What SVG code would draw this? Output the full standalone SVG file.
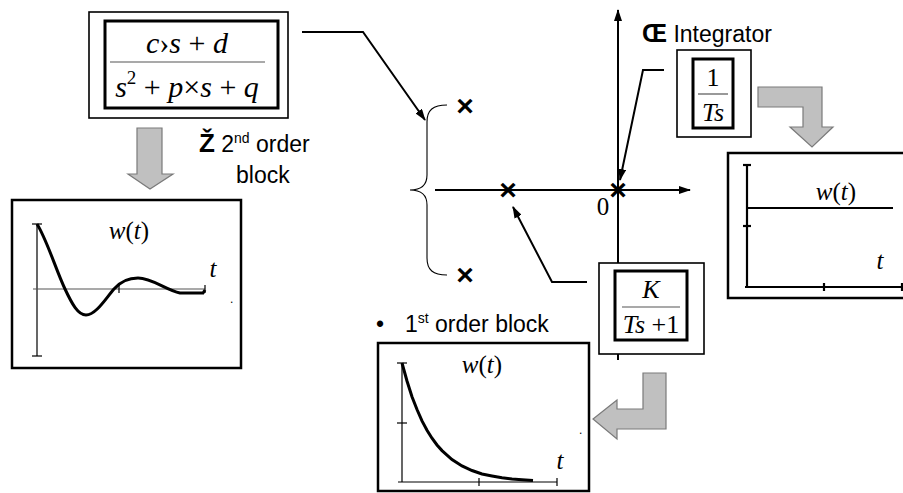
<svg xmlns="http://www.w3.org/2000/svg" width="903" height="493" viewBox="0 0 903 493">
<defs>
<marker id="ah" viewBox="0 0 12 8" refX="11" refY="4" markerWidth="12" markerHeight="8" markerUnits="userSpaceOnUse" orient="auto">
<path d="M0,0 L12,4 L0,8 Z" fill="#000"/>
</marker>
<style>
.outer{fill:#fff;stroke:#000;stroke-width:1.6}
.inner{fill:#fff;stroke:#000;stroke-width:3}
.gbox{fill:#fff;stroke:#000;stroke-width:2.5}
.fl{stroke:#555;stroke-width:1.2}
.m{font-family:"Liberation Serif",serif;font-size:25px;fill:#000}
.f{font-size:26px}
.big{font-size:30px}
.i{font-style:italic}
.lbl{font-family:"Liberation Sans",Arial,sans-serif;font-size:23px;fill:#000}
.dot{font-family:"Liberation Sans",Arial,sans-serif;font-size:12px;fill:#000}
.b{font-weight:bold}
.gray{fill:#c0c0c0;stroke:#7a7a7a;stroke-width:1.2}
.conn{fill:none;stroke:#000;stroke-width:2}
.ax{fill:none;stroke:#000;stroke-width:1.2}
.axb{fill:none;stroke:#000;stroke-width:2.2}
.crv{fill:none;stroke:#000;stroke-width:3}
.x{font-family:"Liberation Sans",Arial,sans-serif;font-size:30px;font-weight:bold;text-anchor:middle}
</style>
</defs>

<g id="connectors">
<path class="conn" d="M302,32 L363,32 L425,120" marker-end="url(#ah)"/>
<path class="conn" d="M664,70 L643,70 L620,180" marker-end="url(#ah)"/>
<path class="conn" d="M587,282 L552,282 L513,207" marker-end="url(#ah)"/>
</g>

<g id="axes">
<line class="conn" x1="435" y1="190" x2="690" y2="190" marker-end="url(#ah)"/>
<line class="conn" x1="618" y1="360" x2="618" y2="10" marker-end="url(#ah)"/>
<text class="m" x="603" y="215" text-anchor="middle">0</text>
</g>

<g id="brace">
<path fill="none" stroke="#000" stroke-width="1.1" d="M447,105 C433,105 427,110 427,122 L427,175 C427,186 421,190 410,190 C421,190 427,194 427,205 L427,258 C427,270 433,275 447,275"/>
</g>

<g id="poles">
<text class="x" x="465" y="116">×</text>
<text class="x" x="465" y="285">×</text>
<text class="x" x="508" y="200">×</text>
<text class="x" x="618" y="200">×</text>
</g>

<g id="second-order-block">
<rect class="outer" x="89" y="12" width="199" height="106"/>
<rect class="inner" x="105" y="21" width="173" height="87"/>
<line class="fl" x1="110" y1="62" x2="265" y2="62"/>
<text class="m big" x="187" y="53" text-anchor="middle"><tspan class="i">c</tspan>›<tspan class="i">s</tspan> + <tspan class="i">d</tspan></text>
<text class="m big" x="187" y="97" text-anchor="middle"><tspan class="i">s</tspan><tspan font-size="19" dy="-13">2</tspan><tspan dy="13"> + </tspan><tspan class="i">p</tspan>×<tspan class="i">s</tspan> + <tspan class="i">q</tspan></text>
</g>

<g id="second-order-label">
<text class="lbl" x="199" y="152"><tspan class="b" font-size="26">Ž</tspan> 2<tspan font-size="14" dy="-9">nd</tspan><tspan dy="9"> order</tspan></text>
<text class="lbl" x="236" y="183">block</text>
</g>

<g id="arrow-down-left">
<polygon class="gray" points="137,128 162,128 162,174 173,174 150,189 128,174 137,174"/>
</g>

<g id="second-order-response">
<rect class="gbox" x="12" y="200" width="229" height="168"/>
<line class="ax" x1="37" y1="224" x2="37" y2="356"/>
<line class="ax" x1="32" y1="224" x2="42" y2="224"/>
<line class="ax" x1="32" y1="356" x2="42" y2="356"/>
<line x1="33" y1="289" x2="205" y2="289" stroke="#555" stroke-width="1.2"/>
<line class="ax" x1="119" y1="285" x2="119" y2="293"/>
<line class="ax" x1="205" y1="285" x2="205" y2="293"/>
<path class="crv" d="M37,224 C47,240 56,270 65,289 C72,304 78,315 86,315 C96,315 106,298 114,289 C121,281 128,278 138,278 C152,278 166,290 180,293 L203,293 L205,290"/>
<text class="m i" x="129" y="239" text-anchor="middle">w<tspan font-style="normal">(</tspan>t<tspan font-style="normal">)</tspan></text>
<text class="m i" x="213" y="277" text-anchor="middle">t</text>
<text class="dot" x="230" y="303">.</text>
</g>

<g id="integrator-label">
<text class="lbl" x="642" y="42"><tspan class="b" font-size="25">Œ</tspan> Integrator</text>
</g>

<g id="integrator-block">
<rect class="outer" x="677" y="50" width="74" height="87"/>
<rect class="inner" x="693" y="59" width="40" height="69"/>
<line class="fl" x1="698" y1="94" x2="728" y2="94"/>
<text class="m f" x="713" y="86" text-anchor="middle">1</text>
<text class="m f i" x="713" y="121" text-anchor="middle">Ts</text>
</g>

<g id="arrow-integrator">
<polygon class="gray" points="758,87 822,87 822,127 833,127 812,147 790,127 803,127 803,107 758,107"/>
</g>

<g id="integrator-response">
<rect class="gbox" x="728" y="153" width="180" height="145" stroke-width="3"/>
<line class="axb" x1="747" y1="165" x2="747" y2="287"/>
<line class="axb" x1="743" y1="165" x2="751" y2="165"/>
<line class="axb" x1="743" y1="226" x2="751" y2="226"/>
<line class="axb" x1="745" y1="287" x2="905" y2="287"/>
<line class="axb" x1="824" y1="283" x2="824" y2="291"/>
<line class="axb" x1="902" y1="283" x2="902" y2="291"/>
<line class="axb" x1="747" y1="208" x2="893" y2="208"/>
<text class="m i" x="836" y="200" text-anchor="middle">w<tspan font-style="normal">(</tspan>t<tspan font-style="normal">)</tspan></text>
<text class="m i" x="880" y="269" text-anchor="middle">t</text>
</g>

<g id="first-order-block">
<rect class="outer" x="599" y="263" width="105" height="91"/>
<rect class="inner" x="615" y="271" width="72" height="69"/>
<line class="fl" x1="622" y1="307" x2="680" y2="307"/>
<text class="m f i" x="651" y="298" text-anchor="middle">K</text>
<text class="m f" x="651" y="333" text-anchor="middle"><tspan class="i">Ts</tspan> +1</text>
</g>

<g id="first-order-label">
<text class="lbl" x="376" y="332">•</text>
<text class="lbl" x="405" y="332">1<tspan font-size="14" dy="-9">st</tspan><tspan dy="9"> order block</tspan></text>
</g>

<g id="arrow-first-order">
<polygon class="gray" points="643,373 666,373 666,429 617,429 617,439 593,419 617,400 617,409 643,409"/>
</g>

<g id="first-order-response">
<rect class="gbox" x="378" y="343" width="211" height="148"/>
<line class="ax" x1="402" y1="363" x2="402" y2="482"/>
<line class="ax" x1="397" y1="363" x2="407" y2="363"/>
<line class="ax" x1="397" y1="423" x2="407" y2="423"/>
<line class="ax" x1="398" y1="482" x2="557" y2="482"/>
<line class="ax" x1="479" y1="478" x2="479" y2="486"/>
<line class="ax" x1="557" y1="478" x2="557" y2="486"/>
<polyline class="crv" points="402,363 407,381 412,396.7 417,409.5 422,420.9 427,430.2 432,438.2 437,445 442,450.6 452,459.5 462,465.9 472,470.5 482,474 492,476 502,477.8 512,479 522,479.8 533,480.5"/>
<text class="m i" x="482" y="373" text-anchor="middle">w<tspan font-style="normal">(</tspan>t<tspan font-style="normal">)</tspan></text>
<text class="m i" x="560" y="469" text-anchor="middle">t</text>
<text class="dot" x="579" y="434">.</text>
</g>
</svg>
